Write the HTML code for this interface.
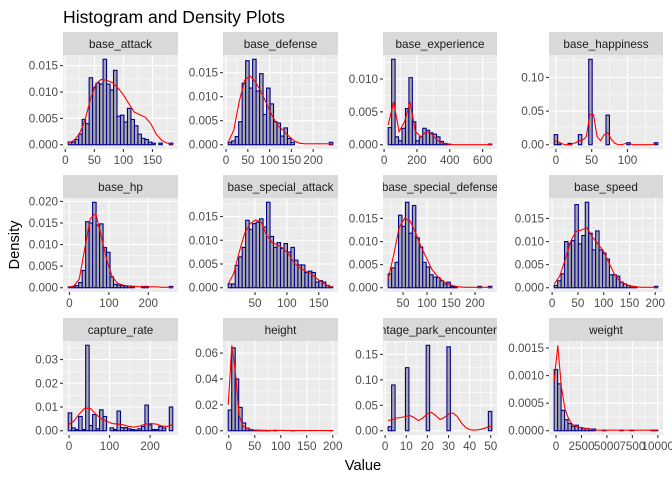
<!DOCTYPE html>
<html><head><meta charset="utf-8"><style>
body{margin:0;background:#fff}
svg{display:block;font-family:"Liberation Sans",Arial,sans-serif}
</style></head><body>
<svg id="chart" width="672" height="480" viewBox="0 0 672 480">
<rect width="672" height="480" fill="#fff"/>
<text x="63" y="23" font-size="17.6" fill="#000">Histogram and Density Plots</text>
<text transform="translate(19,245) rotate(-90)" text-anchor="middle" font-size="14.7" fill="#000">Density</text>
<text x="363" y="470" text-anchor="middle" font-size="14.7" fill="#000">Value</text>
</svg>
<script>
const panelNames = ["base_attack","base_defense","base_experience","base_happiness","base_hp","base_special_attack","base_special_defense","base_speed","capture_rate","height","percentage_park_encounters_rate","weight"];
const binLo = [5,5,25,-2.4,-3,8,19,4,-2,-1,1.45,-180];
const binHi = [185,245,656,142.4,262,172,235,205,256,200,50.5,10000];
const histAttack = [0.0005,0.0005,0.001,0.002,0.0048,0.004,0.0127,0.0108,0.0117,0.0115,0.0162,0.0115,0.0104,0.0141,0.0054,0.0056,0.0043,0.0069,0.0048,0.0036,0.002,0.0012,0.001,0.0005,0.0003,0,0.0003,0,0,0.0003];
const histDefense = [0.0005,0.0008,0.0017,0.0048,0.0128,0.0175,0.0118,0.0178,0.0112,0.0148,0.0063,0.0118,0.0085,0.0048,0.0045,0.0018,0.0035,0.0013,0.0005,0,0,0,0,0,0,0,0,0,0,0.0005];
const histExperience = [0.0026,0.013,0.0012,0.0006,0.0025,0.0055,0.0102,0.0035,0.0006,0.0012,0.0025,0.0022,0.0018,0.0016,0.0012,0.0005,0.0002,0.0001,0,0,0,0,0,0,0,0,0,0,0,0.0001];
const histHappiness = [0.015,0.001,0,0,0.002,0,0,0.015,0,0,0.127,0,0,0,0,0.044,0,0,0,0,0,0.003,0,0,0,0,0,0,0,0.003];
const histHp = [0.0002,0.0002,0.0005,0.0012,0.004,0.0153,0.015,0.0198,0.0145,0.0148,0.0093,0.0082,0.0025,0.0008,0.0006,0.0005,0.0004,0.0004,0.0003,0,0,0.0003,0.0003,0,0,0,0,0,0,0.0003];
const histSpAttack = [0.0008,0.0008,0.0047,0.0065,0.0085,0.0142,0.0123,0.0135,0.0138,0.0145,0.0128,0.018,0.0108,0.0085,0.0095,0.0083,0.0093,0.0075,0.0085,0.0058,0.0048,0.0048,0.0032,0.0035,0.0032,0.0012,0.0015,0.0012,0.0005,0.0002];
const histSpDefense = [0.003,0.0043,0.0055,0.0157,0.0133,0.0185,0.0118,0.0178,0.0108,0.0088,0.0055,0.0045,0.0028,0.0023,0.0022,0.0015,0.0008,0.0012,0.0003,0.0002,0,0,0,0,0,0,0.0003,0,0,0.0003];
const histSpeed = [0.0005,0.0015,0.003,0.01,0.0095,0.0102,0.018,0.0095,0.0113,0.0185,0.0118,0.0082,0.0123,0.0082,0.0075,0.0062,0.0028,0.0028,0.0025,0.0012,0.0008,0.0005,0.0003,0.0002,0,0,0,0,0,0.0003];
const histCapture = [0.0075,0.0012,0.0005,0.006,0.0005,0.036,0.0022,0.0068,0.0008,0.0088,0.006,0,0.0012,0.0005,0.0083,0.0013,0.0013,0.0008,0.0005,0.0003,0.0008,0.0018,0.0108,0.0025,0.0005,0.0005,0.0018,0.0012,0,0.01];
const histHeight = [0.016,0.064,0.04,0.018,0.006,0.002,0.001,0.0005,0.0003,0.0002,0.0002,0.0001,0,0.0003,0,0,0,0,0.0001,0,0,0,0,0,0,0,0,0,0,0.0001];
const histPark = [0.008,0.09,0,0,0,0.124,0,0,0,0,0,0.168,0,0,0,0,0,0.165,0,0,0,0,0,0,0,0,0,0,0,0.038];
const histWeight = [0.00111,0.00085,0.00037,0.0002,0.00013,0.00008,0.0001,0.00006,0.00004,0.00004,0.00003,0.00003,0,0,0.00001,0,0,0,0,0.00001,0,0,0.00001,0,0,0,0,0,0.00001,0.00001];
const densAttack = [0.0003,0.0008,0.002,0.0045,0.0085,0.0115,0.0124,0.0122,0.0118,0.0108,0.0095,0.0078,0.0062,0.0057,0.0052,0.004,0.002,0.0008,0.0003,0.0001];
const densDefense = [0.0005,0.003,0.009,0.0135,0.0143,0.013,0.011,0.0085,0.006,0.004,0.003,0.0018,0.0008,0.0003,0.0002,0.0002,0.0002,0.0002,0.0002,0.0001];
const densExperience = [0.003,0.0065,0.002,0.0035,0.0065,0.002,0.0012,0.002,0.0016,0.0007,0.0002,0.0001,0,0,0,0,0,0,0,0];
const densHappiness = [0.006,0.005,0.002,0,0,0.001,0.003,0.006,0.007,0.012,0.045,0.045,0.012,0.006,0.015,0.018,0.008,0.002,0,0,0.002,0.002,0,0,0,0,0,0,0.001,0.002];
const densHp = [0.0001,0.0004,0.002,0.009,0.016,0.0172,0.012,0.0065,0.0025,0.001,0.0006,0.0004,0.0003,0.0002,0.0002,0.0002,0.0002,0.0001,0.0001,0.0001];
const densSpAttack = [0.0008,0.003,0.0075,0.0115,0.0135,0.0143,0.0138,0.011,0.0095,0.009,0.0083,0.007,0.0052,0.0042,0.0035,0.003,0.002,0.0012,0.0005,0.0001];
const densSpDefense = [0.002,0.007,0.013,0.015,0.0145,0.012,0.009,0.0065,0.004,0.0025,0.0015,0.0008,0.0004,0.0002,0.0001,0.0001,0.0001,0.0001,0.0001,0.0001];
const densSpeed = [0.0008,0.0025,0.006,0.01,0.0122,0.0125,0.013,0.011,0.0095,0.008,0.0055,0.003,0.0015,0.0008,0.0003,0.0002,0.0001,0.0001,0.0001,0.0001];
const densCapture = [0.0025,0.004,0.007,0.0095,0.0095,0.007,0.005,0.004,0.003,0.0028,0.0025,0.0018,0.0015,0.002,0.0028,0.003,0.0028,0.002,0.0018,0.0025];
const densHeight = [0.02,0.066,0.045,0.012,0.004,0.002,0.001,0.0005,0.0004,0.0003,0.0002,0.0002,0.0002,0.0002,0.0002,0.0002,0.0001,0.0001,0.0001,0.0001,0.0001,0.0001,0.0001,0.0001,0.0001,0.0001,0.0001,0.0001,0.0001,0.0001];
const densPark = [0.02,0.022,0.025,0.026,0.028,0.03,0.026,0.02,0.025,0.033,0.036,0.03,0.022,0.026,0.033,0.035,0.028,0.015,0.006,0.002,0.001,0.002,0.004,0.007,0.009];
const densWeight = [0.0009,0.00155,0.0008,0.0004,0.00022,0.00012,0.00008,0.00006,0.00005,0.00004,0.00003,0.00002,0.00001,0.00001,0.00001,0.00001,0.00001,0.00001,0.00001,0.00001,0.00001,0.00001,0.00001,0.00001,0.00001,0.00001,0.00001,0.00001,0.00001,0.00001];
const xTicks = [[0,50,100,150],[0,50,100,150,200],[0,200,400,600],[0,50,100],[0,100,200],[50,100,150],[50,100,150,200],[0,50,100,150,200],[0,100,200],[0,50,100,150,200],[0,10,20,30,40,50],[0,2500,5000,7500,10000]];
const yTicks = [[0,0.005,0.01,0.015],[0,0.005,0.01,0.015],[0,0.005,0.01],[0,0.05,0.1],[0,0.005,0.01,0.015,0.02],[0,0.005,0.01,0.015],[0,0.005,0.01,0.015],[0,0.005,0.01,0.015],[0,0.01,0.02,0.03],[0,0.02,0.04,0.06],[0,0.05,0.1,0.15],[0,0.0005,0.001,0.0015]];
const yDecimals = [3,3,3,2,3,3,3,3,2,2,2,4];

const hists = [histAttack,histDefense,histExperience,histHappiness,histHp,histSpAttack,histSpDefense,histSpeed,histCapture,histHeight,histPark,histWeight];
const dens = [densAttack,densDefense,densExperience,densHappiness,densHp,densSpAttack,densSpDefense,densSpeed,densCapture,densHeight,densPark,densWeight];

const NS = "http://www.w3.org/2000/svg";
const svg = document.getElementById("chart");
const colX = [[63,178],[223,338],[383,497],[549,663]];
const stripTop = [32,175,318];
const STRIP_H = 23, PANEL_H = 94;
function mk(tag, attrs, parent){const e=document.createElementNS(NS,tag);for(const k in attrs)e.setAttribute(k,attrs[k]);(parent||svg).appendChild(e);return e;}

for (let p = 0; p < 12; p++) {
  const c = p % 4, r = Math.floor(p / 4);
  const x0 = colX[c][0], x1 = colX[c][1];
  const sy = stripTop[r], py0 = sy + STRIP_H, py1 = py0 + PANEL_H;
  const g = mk("g", {});
  
  
  const lo = binLo[p], hi = binHi[p], R = hi - lo;
  const dLo = lo - 0.05 * R, dHi = hi + 0.05 * R;
  const h = hists[p], d = dens[p];
  const M = Math.max(Math.max(...h), Math.max(...d));
  const yLo = -0.05 * M, yHi = 1.05 * M;
  const sx = v => x0 + (v - dLo) / (dHi - dLo) * (x1 - x0);
  const sY = v => py1 - (v - yLo) / (yHi - yLo) * (py1 - py0);
  const clipId = "clip" + p, sclipId = "sclip" + p;
  const cp = mk("clipPath", {id: clipId}, g); mk("rect", {x:x0,y:py0,width:x1-x0,height:PANEL_H}, cp);
  const scp = mk("clipPath", {id: sclipId}, g); mk("rect", {x:x0,y:sy,width:x1-x0,height:STRIP_H}, scp);
  const bg = mk("rect", {x:x0,y:py0,width:x1-x0,height:PANEL_H,fill:"#EBEBEB"}, g);
  
  
  const gg = mk("g", {"clip-path":"url(#"+clipId+")"}, g);
  const xt = xTicks[p], yt = yTicks[p];
  const xs = xt[1]-xt[0], ys = yt[1]-yt[0];
  for (let v = xt[0]-xs/2; v <= xt[xt.length-1]+xs; v += xs) mk("line",{x1:sx(v),x2:sx(v),y1:py0,y2:py1,stroke:"#fff","stroke-width":0.55},gg);
  for (let v = yt[0]-ys/2; v <= yt[yt.length-1]+ys; v += ys) mk("line",{x1:x0,x2:x1,y1:sY(v),y2:sY(v),stroke:"#fff","stroke-width":0.55},gg);
  xt.forEach(v => mk("line",{x1:sx(v),x2:sx(v),y1:py0,y2:py1,stroke:"#fff","stroke-width":1.1},gg));
  yt.forEach(v => mk("line",{x1:x0,x2:x1,y1:sY(v),y2:sY(v),stroke:"#fff","stroke-width":1.1},gg));
  const w = R / h.length;
  h.forEach((v, i) => {
    const b = mk("rect",{x:sx(lo+i*w),y:sY(v),width:sx(lo+(i+1)*w)-sx(lo+i*w),height:sY(0)-sY(v),fill:"#A9A9A9",stroke:"#00008B","stroke-width":1.1},gg);
    
    
  });
  const step = R / (d.length - 1);
  const pts = d.map((v, i) => sx(lo + i*step).toFixed(2) + "," + sY(v).toFixed(2)).join(" ");
  const ln = mk("polyline",{points:pts,fill:"none",stroke:"#FF0000","stroke-width":1.1},gg);
  
  
  // strip
  const st = mk("rect",{x:x0,y:sy,width:x1-x0,height:STRIP_H,fill:"#D9D9D9"},g);
  
  
  const stt = mk("text",{x:(x0+x1)/2,y:sy+16,"text-anchor":"middle","font-size":"11.7",fill:"#1A1A1A","clip-path":"url(#"+sclipId+")"},g);
  stt.textContent = panelNames[p];
  
  
  // axes
  xt.forEach(v => {
    mk("line",{x1:sx(v),x2:sx(v),y1:py1,y2:py1+3,stroke:"#333","stroke-width":1.1},g);
    const t = mk("text",{x:sx(v),y:py1+15,"text-anchor":"middle","font-size":"11.7",fill:"#4D4D4D"},g);
    t.textContent = String(v);
    
    
  });
  yt.forEach(v => {
    mk("line",{x1:x0-3,x2:x0,y1:sY(v),y2:sY(v),stroke:"#333","stroke-width":1.1},g);
    const t = mk("text",{x:x0-5,y:sY(v)+4,"text-anchor":"end","font-size":"11.7",fill:"#4D4D4D"},g);
    t.textContent = v.toFixed(yDecimals[p]);
    
    
  });
}
</script>
</body></html>
